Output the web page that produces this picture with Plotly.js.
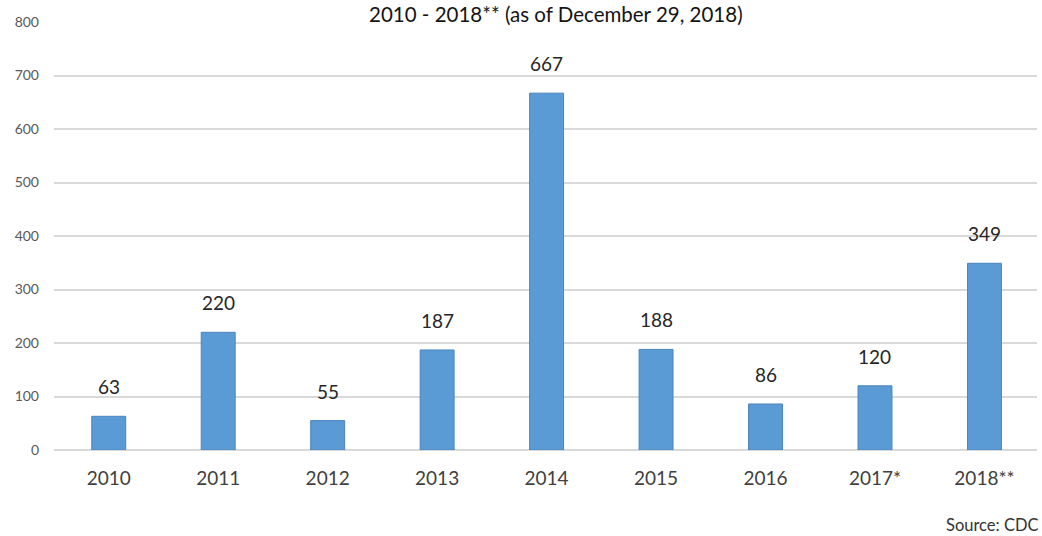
<!DOCTYPE html>
<html>
<head>
<meta charset="utf-8">
<script src="https://cdn.plot.ly/plotly-3.0.1.min.js"></script>
<style>html,body{margin:0;padding:0;background:#fff;}#chart{width:1042px;height:536px;}</style>
</head>
<body>
<div id="chart"></div>
<script>
const categories = ["2010","2011","2012","2013","2014","2015","2016","2017*","2018**"];
const cases = [63, 220, 55, 187, 667, 188, 86, 120, 349];
const yTicks = [0,100,200,300,400,500,600,700,800];
const titleText = "2010 - 2018** (as of December 29, 2018)";
const sourceText = "Source: CDC";

const FONT = "Lato, 'Open Sans', sans-serif";

const trace = {
  type: "bar",
  x: categories,
  y: cases,
  width: 0.31,
  marker: {color: "#5b9bd5", line: {color: "#4a84bd", width: 1}},
  hoverinfo: "x+y"
};

const labelAnnotations = categories.map((c, i) => ({
  x: i, y: cases[i], xref: "x", yref: "y",
  text: String(cases[i]), showarrow: false,
  yanchor: "bottom", yshift: 16,
  font: {family: FONT, size: 19, color: "#262626"}
}));

const titleAnnotation = {
  xref: "paper", yref: "paper",
  x: (556 - 54) / 983, y: 1 + 21/428,
  xanchor: "center", yanchor: "top",
  text: titleText, showarrow: false, borderpad: 0,
  font: {family: FONT, size: 20.5, color: "#141414"}
};

const sourceAnnotation = {
  xref: "paper", yref: "paper",
  x: 1 + 4/983, y: -75/428, xanchor: "right", yanchor: "middle",
  text: sourceText, showarrow: false,
  font: {family: FONT, size: 16.5, color: "#333"}
};

const layout = {
  width: 1042, height: 536,
  margin: {l: 54, r: 5, t: 22, b: 86},
  paper_bgcolor: "#fff", plot_bgcolor: "#fff",
  showlegend: false,
  xaxis: {
    type: "category",
    range: [-0.5, 8.48],
    showgrid: false, zeroline: false, showline: false,
    ticks: "", ticklabelstandoff: 15,
    tickfont: {family: FONT, size: 19, color: "#404040"},
    fixedrange: true
  },
  yaxis: {
    range: [0, 800],
    tickvals: yTicks,
    ticktext: yTicks.map(String),
    showgrid: true, gridcolor: "#d9d9d9", gridwidth: 1.5,
    zeroline: true, zerolinecolor: "#d9d9d9", zerolinewidth: 1.5,
    showline: false, ticks: "", ticklabelstandoff: 14,
    tickfont: {family: FONT, size: 14, color: "#595959"},
    fixedrange: true
  },
  annotations: labelAnnotations.concat([titleAnnotation, sourceAnnotation])
};

Plotly.newPlot("chart", [trace], layout, {displayModeBar: false, responsive: false});
</script>
</body>
</html>
